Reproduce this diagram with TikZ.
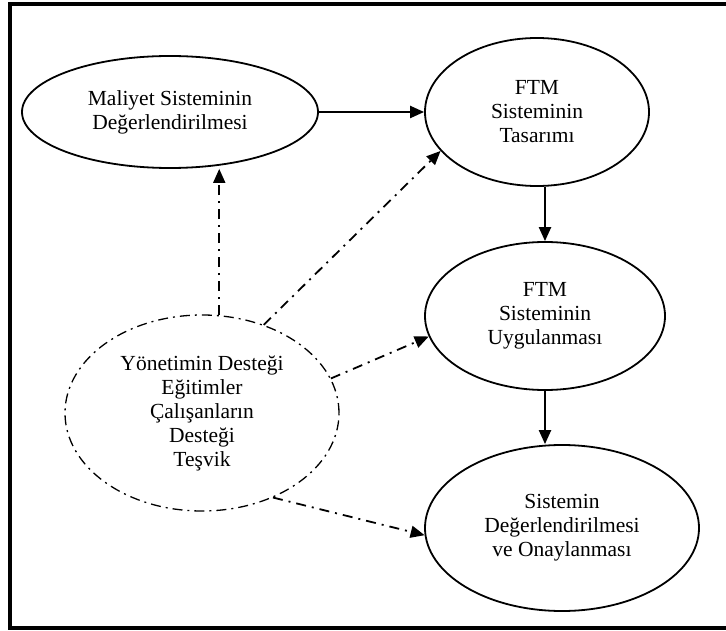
\documentclass[tikz,border=0pt]{standalone}
\usepackage{fontspec}
\setmainfont{Liberation Serif}
\usetikzlibrary{shapes.geometric,arrows.meta}

\begin{document}
\begin{tikzpicture}
        [x=1pt,y=-1pt,every node/.style={draw,shape=ellipse,align=center,inner sep=0,line width=1.8pt,font=\fontsize{21.5}{24}\selectfont},
        solid arrow/.style={line width=2.2pt,-{Triangle[length=14pt,width=12pt]}},
        dashdot arrow/.style={line width=1.8pt,dash pattern=on 10pt off 6pt on 2pt off 6pt,-{Triangle[length=14pt,width=12pt]}}]

        \useasboundingbox (0,0) rectangle (726,631);
        \draw[line width=3.5pt] (10,4) rectangle (740,628);

        \node[minimum width=296pt,minimum height=112pt] (e1) at (170,112) {Maliyet Sisteminin\\Değerlendirilmesi};
        \node[minimum width=224pt,minimum height=148pt] (e2) at (537,112) {FTM\\Sisteminin\\Tasarımı};
        \node[minimum width=240pt,minimum height=148pt] (e3) at (545,316) {FTM\\Sisteminin\\Uygulanması};
        \node[minimum width=274pt,minimum height=166pt] (e4) at (562,528) {Sistemin\\Değerlendirilmesi\\ve Onaylanması};
        \node[minimum width=274pt,minimum height=196pt,line width=1.3pt,dash pattern=on 10pt off 5pt on 2pt off 5pt] (e5) at (202,413) {Yönetimin Desteği\\Eğitimler\\Çalışanların\\Desteği\\Teşvik};

        \draw[solid arrow] (e1) -- (e2);
        \draw[solid arrow] (e3.north |- e2.south) -- (e3.north);
        \draw[solid arrow] (e3.south) -- (e3.south |- e4.north);
        \draw[dashdot arrow] (e5.80) -- (e5.80 |- e1.south);
        \draw[dashdot arrow] (e5.55) -- (e2.202);
        \draw[dashdot arrow] (e5.15) -- (e3.190);
        \draw[dashdot arrow] (e5.310) -- (e4.183);
      \end{tikzpicture}
\end{document}
